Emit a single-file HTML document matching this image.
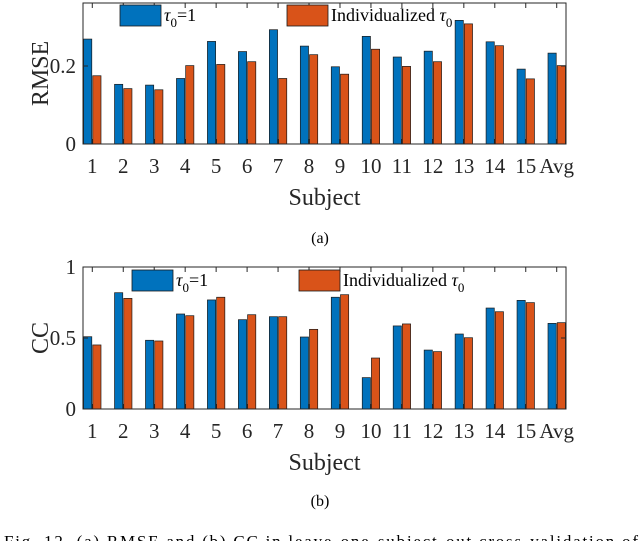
<!DOCTYPE html>
<html><head><meta charset="utf-8"><style>
body{margin:0;background:#fff;width:640px;height:541px;overflow:hidden}
svg{display:block;font-family:"Liberation Serif",serif}
</style></head><body>
<svg id="fig" width="640" height="541"></svg>
<script>
const categories=["1","2","3","4","5","6","7","8","9","10","11","12","13","14","15","Avg"];
const rmseTau1=[0.269,0.153,0.151,0.168,0.263,0.237,0.293,0.251,0.198,0.276,0.223,0.238,0.317,0.262,0.192,0.233];
const rmseIndiv=[0.175,0.142,0.139,0.201,0.204,0.211,0.168,0.229,0.179,0.243,0.199,0.211,0.308,0.252,0.167,0.201];
const ccTau1=[0.509,0.819,0.484,0.669,0.768,0.629,0.650,0.507,0.787,0.221,0.585,0.415,0.528,0.711,0.765,0.603];
const ccIndiv=[0.451,0.779,0.479,0.657,0.787,0.664,0.650,0.561,0.805,0.359,0.599,0.404,0.502,0.685,0.749,0.608];
const rmseTicks=[0,0.2];const rmseTickLabels=["0","0.2"];
const ccTicks=[0,0.5,1];const ccTickLabels=["0","0.5","1"];
const NS="http://www.w3.org/2000/svg";
const svg=document.getElementById('fig');
function mk(tag,at,parent){const e=document.createElementNS(NS,tag);for(const k in at)e.setAttribute(k,at[k]);(parent||svg).appendChild(e);return e;}
function chart(o){
  const g=mk('g',{});
  
  
  const L=83,R=566,T=o.top,B=o.bottom;
  const x=i=>L+(i+1-0.7)/15.6*(R-L);
  const y=v=>B-v/o.ymax*(B-T);
  const bw=8.2;
  categories.forEach((c,i)=>{
    const b1=mk('rect',{x:x(i)-bw-0.5,y:y(o.s1[i]),width:bw,height:B-y(o.s1[i]),fill:'#0072BD',stroke:'#1a1a1a','stroke-width':0.7},g);
    
    
    const b2=mk('rect',{x:x(i)+0.5,y:y(o.s2[i]),width:bw,height:B-y(o.s2[i]),fill:'#D95319',stroke:'#1a1a1a','stroke-width':0.7},g);
    
    
    mk('line',{x1:x(i),x2:x(i),y1:B,y2:B-5,stroke:'#262626'},g);
    mk('line',{x1:x(i),x2:x(i),y1:T,y2:T+5,stroke:'#262626'},g);
    const t=mk('text',{x:x(i),y:B+29,'text-anchor':'middle','font-size':21,fill:'#262626'},g);
    t.textContent=c;
    
    
  });
  o.ticks.forEach((v,j)=>{
    mk('line',{x1:L,x2:L+5,y1:y(v),y2:y(v),stroke:'#262626'},g);
    mk('line',{x1:R,x2:R-5,y1:y(v),y2:y(v),stroke:'#262626'},g);
    const t=mk('text',{x:L-7,y:y(v)+7,'text-anchor':'end','font-size':21,fill:'#262626'},g);
    t.textContent=o.tickLabels[j];
    
    
  });
  const ax=mk('rect',{x:L,y:T,width:R-L,height:B-T,fill:'none',stroke:'#262626','stroke-width':1},g);
  
  
  const yt=mk('text',{x:0,y:0,'text-anchor':'middle','font-size':24,fill:'#262626',transform:`translate(48,${(T+B)/2}) rotate(-90)`},g);
  yt.textContent=o.ylabel;
  
  
  const xt=mk('text',{x:(L+R)/2,y:B+61,'text-anchor':'middle','font-size':24,fill:'#262626'},g);
  xt.textContent='Subject';
  
  
  const lg=mk('g',{},g);
  
  
  mk('rect',{x:o.lx1,y:o.ly,width:41,height:21,fill:'#0072BD',stroke:'#1a1a1a','stroke-width':0.8},lg);
  const t1=mk('text',{x:o.lx1+44,y:o.ly+16,'font-size':18,fill:'#000'},lg);
  t1.innerHTML='<tspan font-style="italic">τ</tspan><tspan dy="6" font-size="13">0</tspan><tspan dy="-6">=1</tspan>';
  
  
  mk('rect',{x:o.lx2,y:o.ly,width:41,height:21,fill:'#D95319',stroke:'#1a1a1a','stroke-width':0.8},lg);
  const t2=mk('text',{x:o.lx2+44,y:o.ly+16,'font-size':18,fill:'#000'},lg);
  t2.innerHTML='Individualized <tspan font-style="italic">τ</tspan><tspan dy="6" font-size="13">0</tspan>';
  
  
  const sub=mk('text',{x:320,y:o.sub,'text-anchor':'middle','font-size':16,fill:'#000'},g);
  sub.textContent=o.subl;
  
  
}
chart({name:'rmse-chart',top:3,bottom:144,ymax:0.3615,s1:rmseTau1,s2:rmseIndiv,ticks:rmseTicks,tickLabels:rmseTickLabels,ylabel:'RMSE',lx1:120,lx2:287,ly:5,sub:243,subl:'(a)'});
chart({name:'cc-chart',top:267,bottom:409,ymax:1,s1:ccTau1,s2:ccIndiv,ticks:ccTicks,tickLabels:ccTickLabels,ylabel:'CC',lx1:132,lx2:299,ly:270,sub:506,subl:'(b)'});
const cap=mk('text',{x:4,y:547,'font-size':17,fill:'#000',textLength:634,lengthAdjust:'spacing'});
cap.textContent='Fig. 12.   (a) RMSE and (b) CC in leave-one-subject-out cross-validation of';


</script>
</body></html>
